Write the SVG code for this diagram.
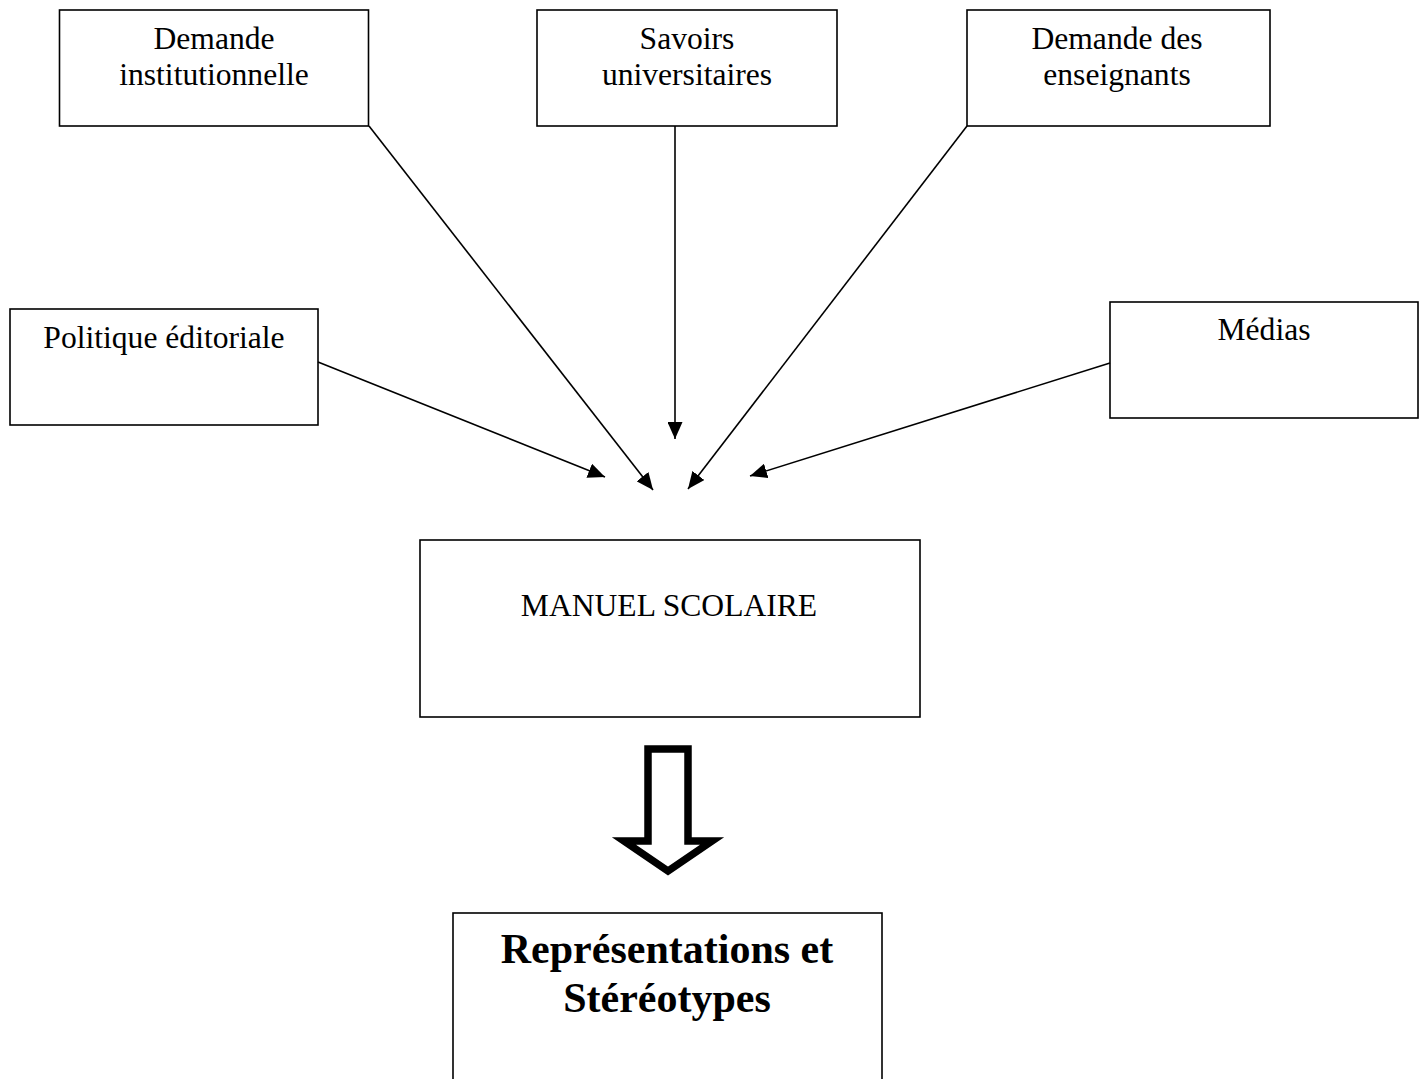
<svg xmlns="http://www.w3.org/2000/svg" width="1423" height="1079" viewBox="0 0 1423 1079">
  <style>
    .box { fill: #ffffff; stroke: #000000; stroke-width: 1.6; }
    .lbl { font-family: "Liberation Serif", "Times New Roman", serif; font-size: 31.6px; fill: #000000; text-anchor: middle; }
    .big { font-family: "Liberation Serif", "Times New Roman", serif; font-size: 42px; font-weight: bold; fill: #000000; text-anchor: middle; }
    .conn { stroke: #000000; stroke-width: 1.6; fill: none; marker-end: url(#ah); }
  </style>
  <defs>
    <marker id="ah" markerUnits="userSpaceOnUse" markerWidth="18" markerHeight="15" refX="17" refY="7.5" orient="auto">
      <path d="M0,0 L17,7.5 L0,15 Z" fill="#000000"/>
    </marker>
  </defs>
  <rect width="1423" height="1079" fill="#ffffff"/>

  <g id="n-institutionnelle">
    <rect class="box" x="59.5" y="10" width="309" height="116"/>
    <text class="lbl" x="214" y="49">Demande</text>
    <text class="lbl" x="214" y="85">institutionnelle</text>
  </g>
  <g id="n-savoirs">
    <rect class="box" x="537" y="10" width="300" height="116"/>
    <text class="lbl" x="687" y="49">Savoirs</text>
    <text class="lbl" x="687" y="85">universitaires</text>
  </g>
  <g id="n-enseignants">
    <rect class="box" x="967" y="10" width="303" height="116"/>
    <text class="lbl" x="1117" y="49">Demande des</text>
    <text class="lbl" x="1117" y="85">enseignants</text>
  </g>
  <g id="n-politique">
    <rect class="box" x="10" y="309" width="308" height="116"/>
    <text class="lbl" x="164" y="348">Politique éditoriale</text>
  </g>
  <g id="n-medias">
    <rect class="box" x="1110" y="302" width="308" height="116"/>
    <text class="lbl" x="1264" y="340">Médias</text>
  </g>
  <g id="n-manuel">
    <rect class="box" x="420" y="540" width="500" height="177"/>
    <text class="lbl" x="669" y="616">MANUEL SCOLAIRE</text>
  </g>
  <g id="n-representations">
    <rect class="box" x="453" y="913" width="429" height="180"/>
    <text class="big" x="667" y="963">Représentations et</text>
    <text class="big" x="667" y="1012">Stéréotypes</text>
  </g>

  <g id="connectors">
    <line class="conn" x1="369" y1="126" x2="653" y2="490"/>
    <line class="conn" x1="675" y1="126" x2="675" y2="439"/>
    <line class="conn" x1="967" y1="126" x2="688" y2="489"/>
    <line class="conn" x1="318" y1="362" x2="605" y2="477"/>
    <line class="conn" x1="1110" y1="363" x2="750" y2="476"/>
    <path id="hollow-arrow" d="M648,749 L688,749 L688,841 L712,841 L668,871 L624,841 L648,841 Z" fill="#ffffff" stroke="#000000" stroke-width="7.5" stroke-linejoin="miter"/>
  </g>
</svg>
